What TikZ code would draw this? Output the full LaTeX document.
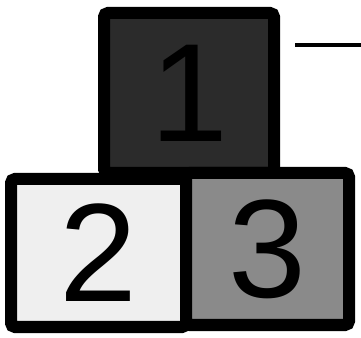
\documentclass[tikz,border=0pt]{standalone}
\usepackage{fontspec}
\setmainfont{Liberation Sans}
\begin{document}
\begin{tikzpicture}[x=1pt,y=1pt,
  block/.style={draw=black, line width=12pt, rounded corners=4pt, inner sep=0pt,
    font=\fontsize{140}{140}\selectfont, text=black},
  rule/.style={draw=black, line width=4pt}]
\useasboundingbox (0,0) rectangle (361,337);
\node[block, fill={rgb,255:red,43;green,43;blue,43}, minimum width=170pt, minimum height=160pt] (b1) at (189,244) {1};
\node[block, fill={rgb,255:red,239;green,239;blue,239}, minimum width=175pt, minimum height=148pt] (b2) at (98.5,84) {2};
\node[block, fill={rgb,255:red,138;green,138;blue,138}, minimum width=163pt, minimum height=152pt] (b3) at (267.5,88) {3};
\coordinate (ls) at (295,292);
\coordinate (le) at (361,292);
\draw[rule] (ls) -- (le);
\end{tikzpicture}
\end{document}
